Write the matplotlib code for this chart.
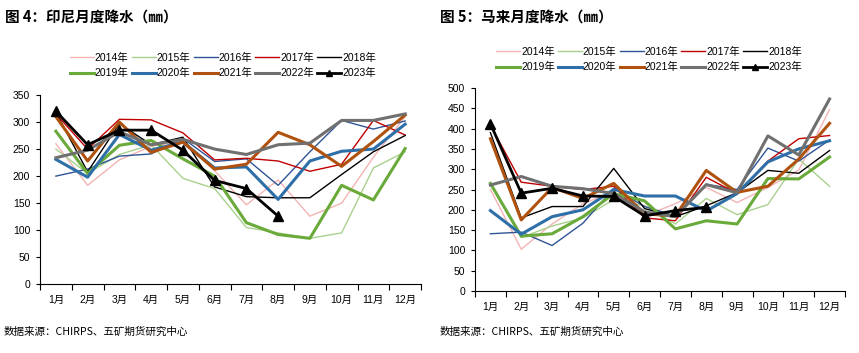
import matplotlib
matplotlib.use("Agg")
from matplotlib import pyplot as plt
import numpy as np

plt.rcParams['font.family'] = ['Liberation Sans', 'Noto Sans CJK SC', 'DejaVu Sans']

months = ['1月', '2月', '3月', '4月', '5月', '6月', '7月', '8月', '9月', '10月', '11月', '12月']
years = ['2014年', '2015年', '2016年', '2017年', '2018年',
         '2019年', '2020年', '2021年', '2022年', '2023年']

# Indonesia monthly rainfall (mm)
indo_2014 = [260, 183, 230, 255, 265, 210, 147, 193, 126, 150, 235, 310]
indo_2015 = [250, 205, 240, 258, 196, 177, 105, 95, 85, 95, 215, 245]
indo_2016 = [200, 213, 237, 241, 270, 227, 232, 183, 245, 303, 287, 302]
indo_2017 = [315, 250, 305, 304, 280, 230, 233, 228, 209, 222, 303, 276]
indo_2018 = [318, 208, 297, 258, 272, 180, 162, 160, 160, 203, 245, 275]
indo_2019 = [283, 205, 257, 266, 232, 200, 114, 92, 85, 183, 156, 251]
indo_2020 = [231, 198, 277, 248, 263, 215, 217, 157, 228, 246, 250, 296]
indo_2021 = [310, 228, 300, 244, 263, 213, 222, 281, 258, 218, 264, 313]
indo_2022 = [234, 248, 282, 258, 268, 250, 240, 258, 261, 303, 303, 315]
indo_2023 = [320, 258, 285, 285, 248, 192, 177, 126]

# Malaysia monthly rainfall (mm)
mal_2014 = [250, 103, 165, 215, 245, 185, 215, 255, 218, 255, 298, 447]
mal_2015 = [265, 132, 160, 180, 225, 210, 165, 228, 188, 213, 325, 258]
mal_2016 = [141, 145, 112, 167, 253, 208, 185, 263, 250, 352, 320, 372]
mal_2017 = [408, 268, 258, 250, 258, 180, 173, 280, 240, 320, 375, 383]
mal_2018 = [390, 180, 208, 208, 302, 203, 183, 210, 242, 297, 290, 346]
mal_2019 = [265, 135, 141, 183, 240, 222, 153, 173, 165, 277, 276, 330]
mal_2020 = [198, 140, 183, 200, 250, 234, 234, 197, 240, 318, 350, 370]
mal_2021 = [375, 175, 255, 228, 265, 190, 185, 297, 243, 258, 325, 413]
mal_2022 = [261, 282, 258, 252, 240, 195, 183, 262, 242, 382, 335, 473]
mal_2023 = [412, 241, 253, 234, 233, 185, 198, 206]

colors = ['#F4B4B4', '#A9D18E', '#2F5597', '#C00000', '#000000',
          '#6AAA3A', '#2E6FA8', '#B0520F', '#707070', '#000000']
widths = [1.0, 1.0, 1.0, 1.0, 1.0, 2.2, 2.2, 2.2, 2.2, 2.0]

indo = [indo_2014, indo_2015, indo_2016, indo_2017, indo_2018,
        indo_2019, indo_2020, indo_2021, indo_2022, indo_2023]
mal = [mal_2014, mal_2015, mal_2016, mal_2017, mal_2018,
       mal_2019, mal_2020, mal_2021, mal_2022, mal_2023]

W, H = 859, 353
fig = plt.figure(figsize=(W / 100, H / 100), dpi=100)


def draw(ax, series, ymax, step):
    for i, vals in enumerate(series):
        x = np.arange(len(vals))
        if i == 9:
            ax.plot(x, vals, color=colors[i], lw=widths[i], marker='^',
                    markersize=7, label=years[i], zorder=20)
        else:
            ax.plot(x, vals, color=colors[i], lw=widths[i], label=years[i], zorder=5 + i)
    ax.set_xlim(-0.5, 11.5)
    ax.set_ylim(0, ymax)
    ax.set_yticks(np.arange(0, ymax + 1, step))
    ax.set_xticks(np.arange(12))
    ax.set_xticklabels(months)
    ax.set_xticks(np.arange(-0.5, 12, 1), minor=True)
    ax.tick_params(axis='x', which='major', length=0, pad=8, labelsize=7.5)
    ax.tick_params(axis='x', which='minor', length=4, direction='out', width=0.8)
    ax.tick_params(axis='y', length=3, width=0.8, labelsize=7.5, pad=4)
    for s in ['top', 'right']:
        ax.spines[s].set_visible(False)
    for s in ['left', 'bottom']:
        ax.spines[s].set_linewidth(0.8)
        ax.spines[s].set_color('black')


ax1 = fig.add_axes([40 / W, 1 - 284.3 / H, 381 / W, 189.3 / H])
draw(ax1, indo, 350, 50)
ax2 = fig.add_axes([475 / W, 1 - 291 / H, 370 / W, 203 / H])
draw(ax2, mal, 500, 50)

# legend filled row by row
order = [0, 5, 1, 6, 2, 7, 3, 8, 4, 9]
for ax, cx, cy in [(ax1, 223 / W, 1 - 65.5 / H), (ax2, 649 / W, 1 - 59.5 / H)]:
    h, l = ax.get_legend_handles_labels()
    ax.legend([h[i] for i in order], [l[i] for i in order], ncol=5, loc='center',
              bbox_to_anchor=(cx, cy), bbox_transform=fig.transFigure,
              frameon=False, fontsize=7.5, handlelength=2.3, handletextpad=0.1,
              columnspacing=0.3, labelspacing=0.55, markerscale=0.7,
              borderpad=0, borderaxespad=0)

title_font = ['Noto Sans CJK SC', 'DejaVu Sans']
fig.text(5 / W, 1 - 18 / H, '图 4：印尼月度降水（㎜）', fontsize=10.5, fontweight='bold',
         va='center', ha='left', family=title_font)
fig.text(440 / W, 1 - 18 / H, '图 5：马来月度降水（㎜）', fontsize=10.5, fontweight='bold',
         va='center', ha='left', family=title_font)
fig.text(4 / W, 1 - 332 / H, '数据来源：CHIRPS、五矿期货研究中心', fontsize=7.6,
         va='center', ha='left', family=title_font)
fig.text(440 / W, 1 - 332 / H, '数据来源：CHIRPS、五矿期货研究中心', fontsize=7.6,
         va='center', ha='left', family=title_font)

fig.savefig('out.png', dpi=100)
